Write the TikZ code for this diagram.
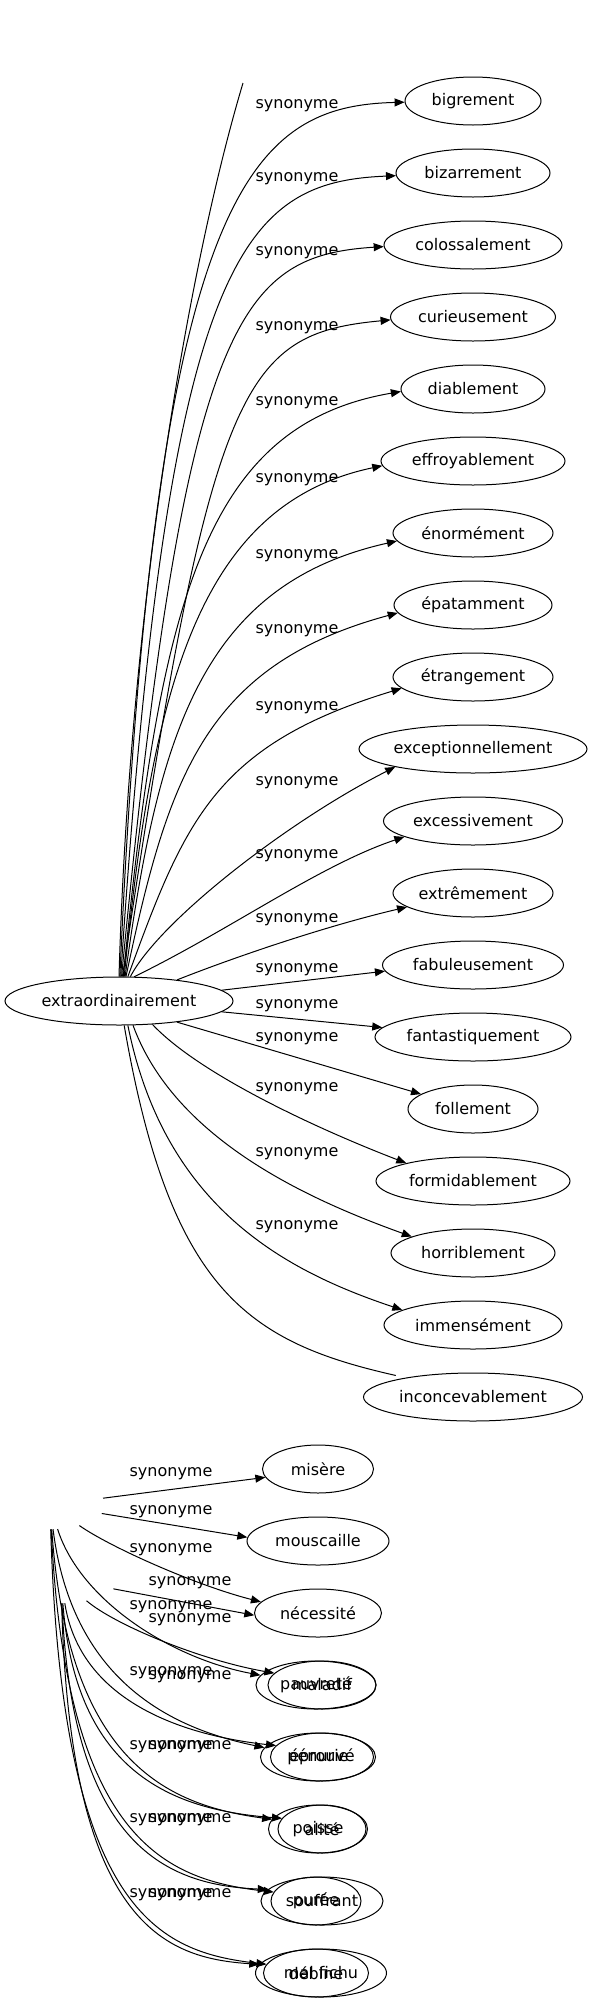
\documentclass[tikz,border=0pt]{standalone}
\usepackage{fontspec}
\setmainfont{DejaVu Sans}
\usetikzlibrary{shapes.geometric,arrows.meta}

\begin{document}
\begin{tikzpicture}[x=0.75pt,y=0.75pt,yscale=-1,xscale=1,
  font=\fontsize{12}{14}\selectfont,
  syn/.style={draw, ellipse, line width=0.75pt, minimum height=36pt, inner sep=0pt},
  ghost/.style={ellipse, minimum height=36pt, inner sep=0pt},
  lbl/.style={inner sep=0pt},
  rel/.style={line width=0.75pt, -{Triangle[length=7.5pt,width=6pt]}},
  bare/.style={line width=0.75pt}]
\useasboundingbox (0,0) rectangle (592,2003);

% upper graph
\node[syn, minimum width=171pt] (src) at (119,1001) {extraordinairement};
\foreach \n/\lab/\w [count=\k from 0] in {big/bigrement/102, biz/bizarrement/115.5,
    col/colossalement/133.5, cur/curieusement/123.75, dia/diablement/108,
    eff/effroyablement/138, eno/énormément/120, epa/épatamment/118.5,
    etr/étrangement/120, exc/exceptionnellement/171, exs/excessivement/134.25,
    ext/extrêmement/120, fab/fabuleusement/135.75, fan/fantastiquement/147,
    fol/follement/97.5, for/formidablement/145.5, hor/horriblement/123,
    imm/immensément/133.5, inc/inconcevablement/164.25}
  \node[syn, minimum width=\w pt] (\n) at (473,{101+72*\k}) {\lab};

% Text Node
\foreach \y [count=\i] in {106,179,253,328,403,480,556,631,708,783,856,920,970,1006,1039,1089,1154,1227}
  \node[lbl] (s\i) at (297,\y) {synonyme};

\coordinate (cut) at (243,83);
%Curves
\draw[bare] (src.90) .. controls (130,600) and (190,260) .. (cut);
\draw[rel] (src.88) .. controls (155,190) and (250,106) .. (big.181);
\draw[rel] (src.86) .. controls (168,253) and (243,182) .. (biz.182);
\draw[rel] (src.84) .. controls (185,318) and (239,256) .. (col.181);
\draw[rel] (src.82) .. controls (211,383) and (241,334) .. (cur.182);
\draw[rel] (src.80) .. controls (160,600) and (205,425) .. (dia.182);
\draw[rel] (src.78) .. controls (152,696) and (195,505) .. (eff.183);
\draw[rel] (src.76) .. controls (158,737) and (200,585) .. (eno.186);
\draw[rel] (src.74) .. controls (168,777) and (205,665) .. (epa.186);
\draw[rel] (src.70) .. controls (185,820) and (215,745) .. (etr.189);
\draw[rel] (src.65) .. controls (160,920) and (290,820) .. (exc.193);
\draw[rel] (src.58) .. controls (230,930) and (320,865) .. (exs.193);
\draw[rel] (src.20) .. controls (240,955) and (330,925) .. (ext.192);
%Straight Lines
\draw[rel] (src.6) -- (fab.184);
\draw[rel] (src.354) -- (fan.174);
\draw[rel] (src.340) -- (fol.164);
%Curves
\draw[rel] (src.325) .. controls (200,1075) and (320,1130) .. (for.165);
\draw[rel] (src.300) .. controls (175,1140) and (310,1200) .. (hor.165);
\draw[rel] (src.290) .. controls (165,1210) and (289,1272) .. (imm.168);
\draw[bare, shorten >=7.5pt] (src.282) .. controls (170,1290) and (247,1342) .. (inc.164);

% lower graphs, drawn one over the other
\node[ghost, minimum width=82.5pt] (gA) at (50,1505) {};
\node[ghost, minimum width=85.5pt] (gB) at (61,1579) {};

\node[syn, minimum width=83.25pt] (mis) at (318,1469) {misère};
\node[syn, minimum width=106.5pt] (mou) at (318,1541) {mouscaille};
\node[syn, minimum width=95.25pt] (nec) at (318,1613) {nécessité};
\node[syn, minimum width=90pt] (pau) at (316,1685) {pauvreté};
\node[syn, minimum width=86.25pt] (pen) at (318,1757) {pénurie};
\node[syn, minimum width=74.25pt] (poi) at (318,1829) {poisse};
\node[syn, minimum width=67.5pt] (pur) at (316,1901) {purée};
\node[syn, minimum width=78.75pt] (deb) at (316,1973) {débine};

\node[syn, minimum width=81pt] (mld) at (322,1685) {maladif};
\node[syn, minimum width=77.25pt] (epr) at (322,1757) {éprouvé};
\node[syn, minimum width=66pt] (ali) at (322,1829) {alité};
\node[syn, minimum width=91.5pt] (sou) at (322,1901) {souffrant};
\node[syn, minimum width=98.25pt] (mfi) at (321,1973) {mal fichu};

% Text Node
\foreach \y [count=\i] in {1474,1512,1550,1607,1673,1747,1820,1895}
  \node[lbl] (a\i) at (171,\y) {synonyme};
\foreach \y [count=\i] in {1583,1620,1677,1747,1820,1895}
  \node[lbl] (b\i) at (190,\y) {synonyme};

\draw[rel] (gA) -- (mis.189);
\draw[rel] (gA) -- (mou.177);
\draw[rel] (gA) .. controls (110,1547) and (195,1585) .. (nec.169);
\draw[rel] (gA) .. controls (80,1600) and (170,1658) .. (pau.170);
\draw[rel] (gA) .. controls (72,1680) and (170,1728) .. (pen.170);
\draw[rel] (gA) .. controls (68,1760) and (165,1805) .. (poi.168);
\draw[rel] (gA) .. controls (66,1840) and (165,1880) .. (pur.168);
\draw[rel] (gA) .. controls (62,1915) and (160,1952) .. (deb.170);

\draw[rel] (gB) -- (nec.182);
\draw[rel] (gB) .. controls (115,1625) and (200,1660) .. (mld.166);
\draw[rel] (gB) .. controls (80,1700) and (180,1735) .. (epr.166);
\draw[rel] (gB) .. controls (76,1775) and (175,1810) .. (ali.165);
\draw[rel] (gB) .. controls (72,1850) and (170,1885) .. (sou.168);
\draw[rel] (gB) .. controls (70,1925) and (165,1958) .. (mfi.172);

\end{tikzpicture}
\end{document}
